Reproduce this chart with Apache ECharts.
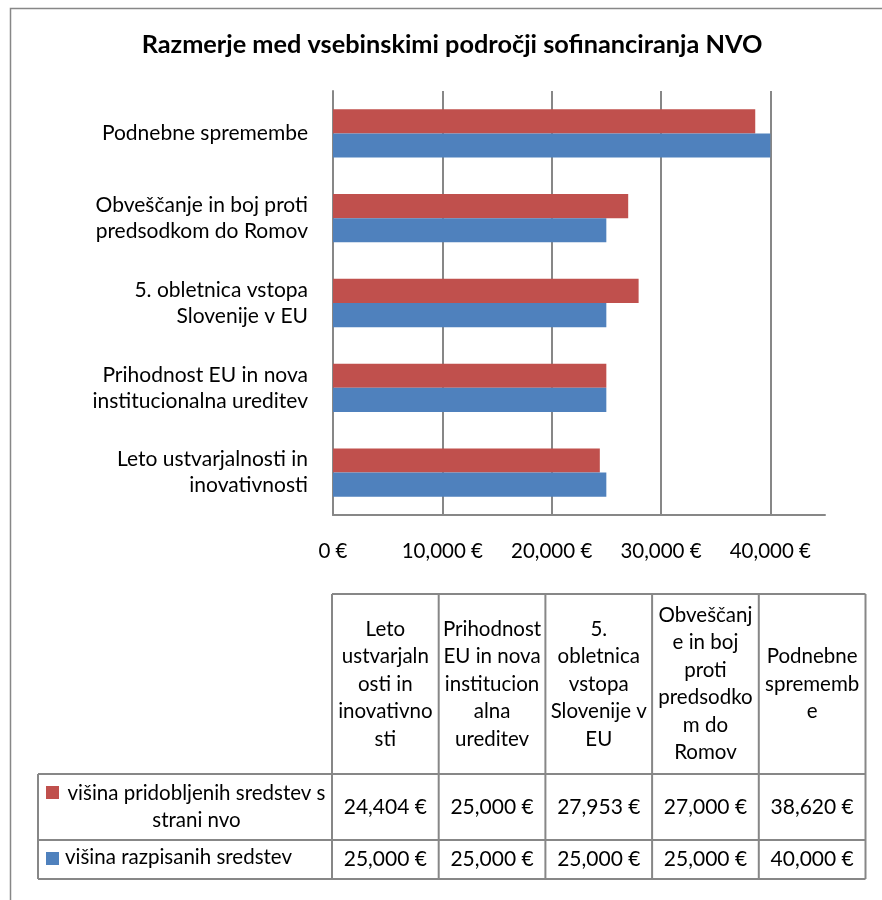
<!DOCTYPE html>
<html>
<head>
<meta charset="utf-8">
<script src="https://cdn.jsdelivr.net/npm/echarts@6/dist/echarts.min.js"></script>
<style>
  html, body { margin: 0; padding: 0; background: #fff; }
  #chart { width: 882px; height: 900px; }
</style>
</head>
<body>
<div id="chart"></div>
<script>
// categories, bottom to top on the chart / left to right in the table
const categories = [
  'Leto ustvarjalnosti in inovativnosti',
  'Prihodnost EU in nova institucionalna ureditev',
  '5. obletnica vstopa Slovenije v EU',
  'Obveščanje in boj proti predsodkom do Romov',
  'Podnebne spremembe'
];
const axisLabels = [
  'Leto ustvarjalnosti in\ninovativnosti',
  'Prihodnost EU in nova\ninstitucionalna ureditev',
  '5. obletnica vstopa\nSlovenije v EU',
  'Obveščanje in boj proti\npredsodkom do Romov',
  'Podnebne spremembe'
];
const tableHeaders = [
  'Leto\nustvarjaln\nosti in\ninovativno\nsti',
  'Prihodnost\nEU in nova\ninstitucion\nalna\nureditev',
  '5.\nobletnica\nvstopa\nSlovenije v\nEU',
  'Obveščanj\ne in boj\nproti\npredsodko\nm do\nRomov',
  'Podnebne\nsprememb\ne'
];
const seriesNames = ['višina pridobljenih sredstev s strani nvo', 'višina razpisanih sredstev'];
const rowLabels = ['višina pridobljenih sredstev s\nstrani nvo', 'višina razpisanih sredstev'];
const obtained = [24404, 25000, 27953, 27000, 38620];
const announced = [25000, 25000, 25000, 25000, 40000];
const colors = ['#C0504D', '#4F81BD'];

const FONT = 'Lato, "Open Sans", sans-serif';
const FS = 20.5;
const GRAY = '#878787';
const euro = v => v.toLocaleString('en-US') + ' €';

// data table layout
const tblLeft = 38, colLeft = 332, colW = 106.7;
const tblTop = 594, headBottom = 774, row1Bottom = 840, tblBottom = 879;
const tblRight = colLeft + colW * categories.length;

const graphics = [];
const line = (x1, y1, x2, y2, w) => graphics.push({
  type: 'line', silent: true,
  shape: { x1, y1, x2, y2 },
  style: { stroke: GRAY, lineWidth: w || 2 }
});
const text = (x, y, t, opts) => graphics.push({
  type: 'text', silent: true, x, y,
  style: Object.assign({
    text: t, fontFamily: FONT, fontSize: FS, fill: '#000',
    align: 'center', verticalAlign: 'middle', lineHeight: 27.5
  }, opts || {})
});

// outer frame (left + top only)
graphics.push({
  type: 'polyline', silent: true,
  shape: { points: [[10.5, 900], [10.5, 8.5], [882, 8.5]] },
  style: { stroke: GRAY, lineWidth: 1.5, fill: null }
});

// title
text(452, 45, 'Razmerje med vsebinskimi področji sofinanciranja NVO',
  { fontSize: 25.3, fontWeight: 'bold' });

// table grid
line(colLeft, tblTop, tblRight, tblTop);
line(tblLeft, headBottom, tblRight, headBottom);
line(tblLeft, row1Bottom, tblRight, row1Bottom);
line(tblLeft, tblBottom, tblRight, tblBottom);
line(tblLeft, headBottom, tblLeft, tblBottom);
for (let i = 0; i <= categories.length; i++) {
  line(colLeft + colW * i, tblTop, colLeft + colW * i, tblBottom);
}

// header cells
tableHeaders.forEach((h, i) => {
  text(colLeft + colW * (i + 0.5), (tblTop + headBottom) / 2, h);
});

// value rows
const rows = [obtained, announced];
const rowMid = [(headBottom + row1Bottom) / 2, (row1Bottom + tblBottom) / 2];
rows.forEach((vals, r) => {
  graphics.push({
    type: 'rect', silent: true,
    shape: { x: 46, y: r === 0 ? 786 : 852, width: 13, height: 13 },
    style: { fill: colors[r] }
  });
  const lbl = rowLabels[r];
  if (lbl.includes('\n')) {
    text((65 + colLeft - 4) / 2, rowMid[r], lbl, { lineHeight: 27 });
  } else {
    text(65, rowMid[r] - 2, lbl, { align: 'left' });
  }
  vals.forEach((v, i) => {
    text(colLeft + colW * (i + 0.5), rowMid[r], euro(v), { fontSize: 21 });
  });
});

const chart = echarts.init(document.getElementById('chart'));
chart.setOption({
  animation: false,
  textStyle: { fontFamily: FONT },
  grid: { left: 333, right: 57, top: 91, bottom: 385, containLabel: false },
  xAxis: {
    type: 'value', min: 0, max: 45000, interval: 10000,
    axisLine: { show: true, lineStyle: { color: GRAY, width: 2 } },
    axisTick: { show: false },
    splitLine: { show: true, showMaxLine: false, lineStyle: { color: GRAY, width: 2 } },
    axisLabel: {
      showMaxLabel: false, margin: 26, fontSize: FS, color: '#000', fontFamily: FONT,
      formatter: v => euro(v)
    }
  },
  yAxis: {
    type: 'category', data: categories,
    axisLine: { show: true, lineStyle: { color: GRAY, width: 2 } },
    axisTick: { show: false },
    axisLabel: {
      margin: 25, fontSize: 21, color: '#000', fontFamily: FONT, lineHeight: 26,
      formatter: (v, i) => axisLabels[i]
    }
  },
  series: [
    { name: seriesNames[0], type: 'bar', data: obtained, itemStyle: { color: colors[0] },
      barGap: '0%', barCategoryGap: '43%' },
    { name: seriesNames[1], type: 'bar', data: announced, itemStyle: { color: colors[1] },
      barGap: '0%', barCategoryGap: '43%' }
  ],
  graphic: graphics
});
</script>
</body>
</html>
